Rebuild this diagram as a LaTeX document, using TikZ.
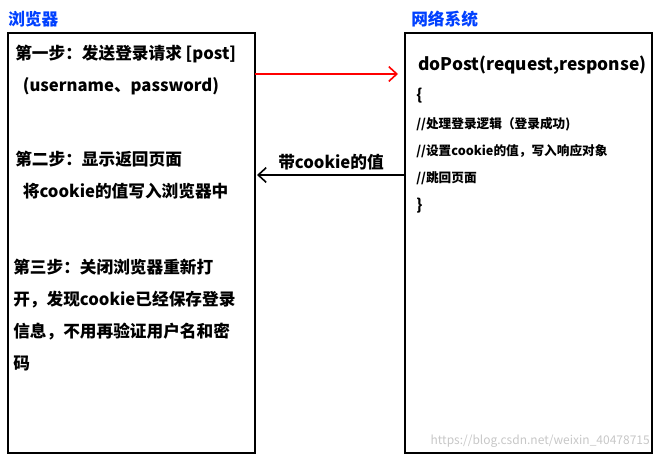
\documentclass[tikz,border=0pt]{standalone}
\usepackage{fontspec}
\setmainfont{Noto Sans CJK SC}
\usetikzlibrary{positioning,arrows.meta}
\tikzset{
  panel/.style={draw, line width=0.8pt},
  title/.style={font=\bfseries\fontsize{12.5}{14}\selectfont, text=blue!75!cyan, anchor=west, inner sep=0pt},
  txt/.style={font=\bfseries\fontsize{12.5}{24}\selectfont, anchor=north west, align=left, inner sep=0pt},
  code/.style={font=\bfseries\fontsize{9.5}{20.5}\selectfont, anchor=north west, align=left, inner sep=0pt},
  flow/.style={line width=1.2pt, -{Straight Barb[length=6pt,width=11pt]}}
}
\begin{document}
\begin{tikzpicture}[x=0.75pt,y=-0.75pt]
\useasboundingbox (0,0) rectangle (661,460);
% browser side
\node[title] (bt) at (8,19) {浏览器};
\draw[panel] (8,33) rectangle (255,453);
\node[txt] (s1) at (15,45) {第一步：发送登录请求 [post]\\\ \ (username、password)};
\node[txt] (s2) at (15,151) {第二步：显示返回页面\\\ \ 将cookie的值写入浏览器中};
\node[txt] (s3) at (13,259) {第三步：关闭浏览器重新打\\开，发现cookie已经保存登录\\信息，不用再验证用户名和密\\码};
% server side
\node[title] (st) at (411,19) {网络系统};
\draw[panel] (405,33) rectangle (652,453);
\node[font=\bfseries\fontsize{13}{15}\selectfont, anchor=west, inner sep=0pt] (dp) at (418,65) {doPost(request,response)};
\node[code] (cd) at (416,88) {\fontsize{11.5}{20.5}\selectfont\{\\//处理登录逻辑（登录成功)\\//设置cookie的值，写入响应对象\\//跳回页面\\\fontsize{11.5}{20.5}\selectfont\}};
% arrows
\coordinate (ra) at (255,74);
\coordinate (rb) at (398,74);
\draw[flow, red] (ra) -- (rb);
\coordinate (ka) at (405,175);
\coordinate (kb) at (257,175);
\draw[flow] (ka) -- (kb);
\node[font=\bfseries\fontsize{12.5}{14}\selectfont, inner sep=0pt] (lb) at (331,162) {带cookie的值};
\node[font=\fontsize{9}{11}\selectfont, text=black!22, anchor=east, inner sep=0pt] (wm) at (650,441) {https://blog.csdn.net/weixin\_40478715};
\end{tikzpicture}
\end{document}
